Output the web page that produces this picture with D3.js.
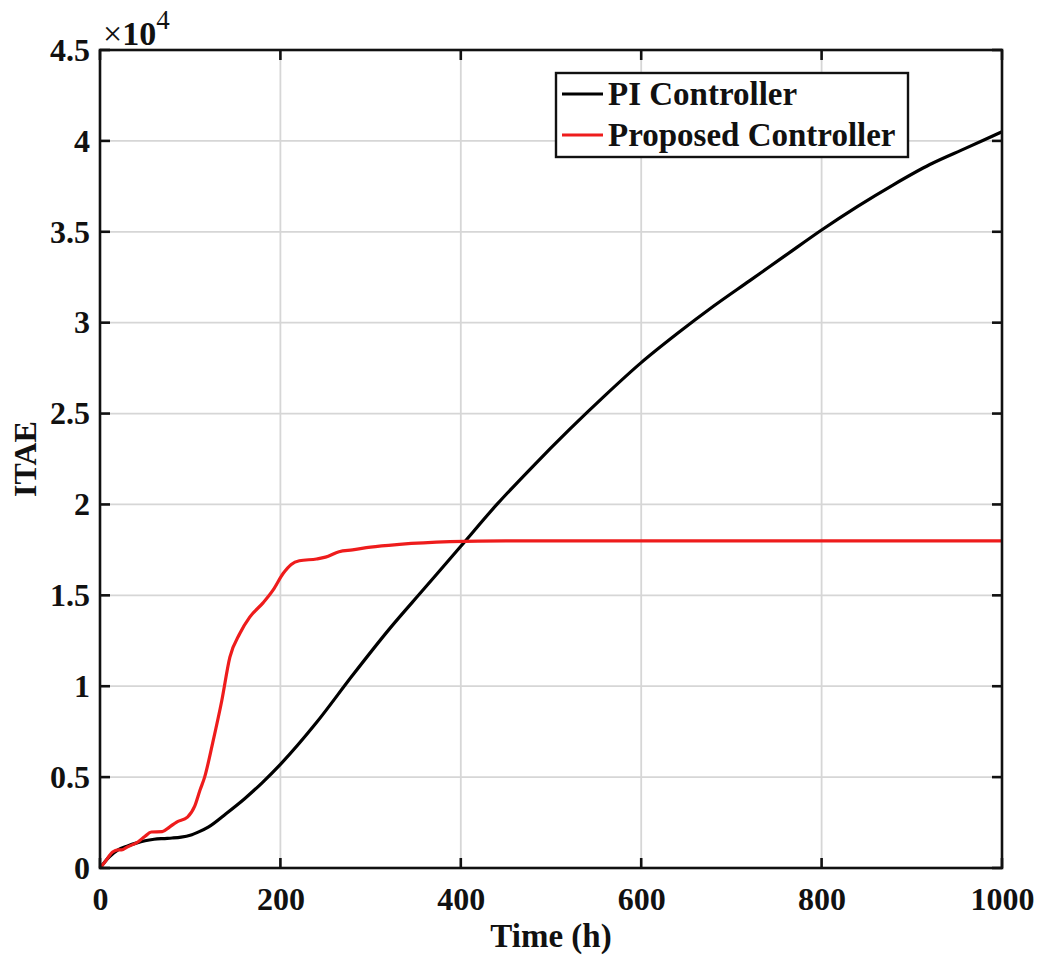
<!DOCTYPE html>
<html>
<head>
<meta charset="utf-8">
<script src="https://cdn.jsdelivr.net/npm/d3@7"></script>
<style>
  body { margin: 0; background: #fff; }
  text { font-family: "Liberation Serif", "Times New Roman", serif; font-weight: bold; fill: #111; }
</style>
</head>
<body>
<svg id="chart" width="1040" height="958"></svg>
<script>
'use strict'
// 数据：时间(h) 与 ITAE (×10^4)
var piTime = [0, 10, 20, 30, 40, 50, 60, 70, 80, 90, 100, 110, 120, 140, 160, 180, 200, 240, 280, 320, 360, 400, 440, 480, 520, 560, 600, 640, 680, 720, 760, 800, 840, 880, 920, 960, 1000];
var piValue = [0, 0.06, 0.1, 0.12, 0.137, 0.15, 0.158, 0.162, 0.165, 0.17, 0.18, 0.2, 0.225, 0.3, 0.38, 0.47, 0.57, 0.8, 1.06, 1.31, 1.54, 1.77, 2.0, 2.21, 2.41, 2.6, 2.78, 2.94, 3.09, 3.23, 3.37, 3.51, 3.64, 3.76, 3.87, 3.96, 4.05];

var propTime = [0, 5, 14, 20, 24, 30, 42, 50, 57, 69, 77, 85, 97, 105, 111, 116, 125, 135, 144, 155, 166, 181, 192, 203, 212, 221, 240, 250, 265, 280, 300, 332, 388, 450, 600, 800, 1000];
var propValue = [0, 0.03, 0.088, 0.1, 0.1, 0.115, 0.143, 0.175, 0.198, 0.2, 0.225, 0.253, 0.28, 0.34, 0.43, 0.5, 0.69, 0.92, 1.16, 1.29, 1.38, 1.46, 1.53, 1.62, 1.67, 1.69, 1.70, 1.71, 1.74, 1.75, 1.765, 1.78, 1.795, 1.8, 1.8, 1.8, 1.8];

var xTicks = [0, 200, 400, 600, 800, 1000];
var yTicks = [0, 0.5, 1, 1.5, 2, 2.5, 3, 3.5, 4, 4.5];
var seriesNames = ["PI Controller", "Proposed Controller"];
var seriesColors = ["#000000", "#ee1c1c"];

var margin = { left: 100, top: 50, right: 38, bottom: 90 };
var width = 1040 - margin.left - margin.right;
var height = 958 - margin.top - margin.bottom;
var tickLen = 10;

var svg = d3.select("#chart");
var g = svg.append("g").attr("transform", "translate(" + margin.left + "," + margin.top + ")");

var x = d3.scaleLinear().domain([0, 1000]).range([0, width]);
var y = d3.scaleLinear().domain([0, 4.5]).range([height, 0]);

// 网格线
g.append("g").selectAll("line")
    .data(xTicks.slice(1, -1)).enter().append("line")
    .attr("x1", function (d) { return x(d); }).attr("x2", function (d) { return x(d); })
    .attr("y1", 0).attr("y2", height)
    .attr("stroke", "#d6d6d6").attr("stroke-width", 1.8);
g.append("g").selectAll("line")
    .data(yTicks.slice(1, -1)).enter().append("line")
    .attr("y1", function (d) { return y(d); }).attr("y2", function (d) { return y(d); })
    .attr("x1", 0).attr("x2", width)
    .attr("stroke", "#d6d6d6").attr("stroke-width", 1.8);

// 曲线
var line = d3.line()
    .x(function (d) { return x(d[0]); })
    .y(function (d) { return y(d[1]); })
    .curve(d3.curveMonotoneX);

var piData = piTime.map(function (t, i) { return [t, piValue[i]]; });
var propData = propTime.map(function (t, i) { return [t, propValue[i]]; });

g.append("path").datum(piData)
    .attr("d", line).attr("fill", "none")
    .attr("stroke", seriesColors[0]).attr("stroke-width", 3.2);
g.append("path").datum(propData)
    .attr("d", line).attr("fill", "none")
    .attr("stroke", seriesColors[1]).attr("stroke-width", 3.2);

// 刻度标签
function styleAxis(sel) {
    sel.select(".domain").remove();
    sel.selectAll(".tick line").remove();
    sel.selectAll(".tick text").style("font-size", "32px");
}
var bottomAxis = g.append("g").attr("transform", "translate(0," + height + ")")
    .call(d3.axisBottom(x).tickValues(xTicks).tickSize(0).tickPadding(19).tickFormat(d3.format("d")));
styleAxis(bottomAxis);
var leftAxis = g.append("g")
    .call(d3.axisLeft(y).tickValues(yTicks).tickSize(0).tickPadding(10).tickFormat(function (d) { return d; }));
styleAxis(leftAxis);

// 刻度线（朝内，四边）
var tickG = g.append("g").attr("stroke", "#111").attr("stroke-width", 2.6);
tickG.selectAll("line.tb").data(xTicks).enter().append("line")
    .attr("x1", function (d) { return x(d); }).attr("x2", function (d) { return x(d); })
    .attr("y1", height).attr("y2", height - tickLen);
tickG.selectAll("line.tt").data(xTicks).enter().append("line")
    .attr("x1", function (d) { return x(d); }).attr("x2", function (d) { return x(d); })
    .attr("y1", 0).attr("y2", tickLen);
tickG.selectAll("line.tl").data(yTicks).enter().append("line")
    .attr("y1", function (d) { return y(d); }).attr("y2", function (d) { return y(d); })
    .attr("x1", 0).attr("x2", tickLen);
tickG.selectAll("line.tr").data(yTicks).enter().append("line")
    .attr("y1", function (d) { return y(d); }).attr("y2", function (d) { return y(d); })
    .attr("x1", width).attr("x2", width - tickLen);

g.append("rect").attr("x", 0).attr("y", 0).attr("width", width).attr("height", height)
    .attr("fill", "none").attr("stroke", "#111").attr("stroke-width", 2.6);

// 指数标记 ×10^4
var expo = svg.append("text").attr("x", margin.left + 3).attr("y", margin.top - 5).style("font-size", "34px");
expo.append("tspan").text("\u00d7").style("font-weight", "normal");
expo.append("tspan").text("10");
expo.append("tspan").text("4").attr("dy", -16).style("font-size", "27px").style("font-weight", "normal");

// 轴标题
svg.append("text").attr("x", margin.left + width / 2).attr("y", 947)
    .attr("text-anchor", "middle").style("font-size", "33px").text("Time (h)");
svg.append("text").attr("transform", "translate(36," + (margin.top + height / 2) + ") rotate(-90)")
    .attr("text-anchor", "middle").style("font-size", "32px").text("ITAE");

// 图例
var legend = svg.append("g").attr("transform", "translate(556,73)");
legend.append("rect").attr("width", 352).attr("height", 84)
    .attr("fill", "#fff").attr("stroke", "#111").attr("stroke-width", 2.4);
seriesNames.forEach(function (name, i) {
    var row = legend.append("g").attr("transform", "translate(0," + (21 + i * 41) + ")");
    row.append("line").attr("x1", 6).attr("x2", 47).attr("y1", 0).attr("y2", 0)
        .attr("stroke", seriesColors[i]).attr("stroke-width", 3.2);
    row.append("text").attr("x", 52).attr("y", 11).style("font-size", "33px").text(name);
});
</script>
</body>
</html>
